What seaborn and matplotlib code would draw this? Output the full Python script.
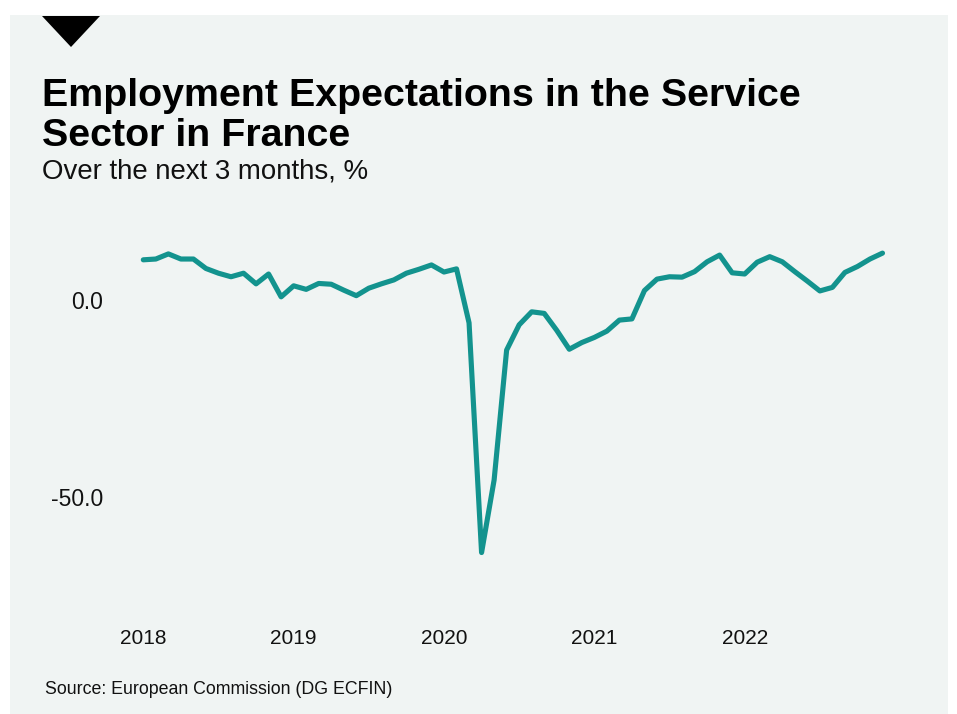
import matplotlib
matplotlib.use("Agg")
import matplotlib.pyplot as plt
from matplotlib.patches import Polygon, Rectangle
import seaborn as sns
import pandas as pd
import numpy as np

years = [2018, 2019, 2020, 2021, 2022]
months = list(range(1, 13))
values = [
    10.2, 10.4, 11.7, 10.4, 10.4, 8.0, 6.8, 5.9, 6.8, 4.1, 6.6, 0.8,
    3.6, 2.7, 4.2, 4.0, 2.5, 1.1, 3.0, 4.1, 5.1, 6.8, 7.8, 8.9,
    7.1, 7.9, -5.8, -64.1, -45.7, -12.7, -6.3, -3.0, -3.4, -7.7, -12.5, -10.8,
    -9.5, -7.9, -5.1, -4.8, 2.4, 5.3, 5.9, 5.8, 7.2, 9.7, 11.4, 6.9,
    6.6, 9.6, 11.0, 9.7, 7.2, 4.8, 2.3, 3.2, 7.0, 8.5, 10.4, 11.9,
]
y_ticks = [0.0, -50.0]
y_tick_labels = ["0.0", "-50.0"]
year_labels = [str(y) for y in years]

dates = [f"{y}-{m:02d}" for y in years for m in months]
df = pd.DataFrame({"idx": np.arange(len(values)), "date": dates, "value": values})

sns.set_theme(style="white")
plt.rcParams["font.family"] = ["Liberation Sans", "DejaVu Sans"]

W, H = 957, 714
fig = plt.figure(figsize=(W / 100, H / 100), dpi=100)
fig.patch.set_facecolor("white")
bg = "#f0f4f3"
fig.patches.append(Rectangle((10 / W, 0), (948 - 10) / W, (714 - 15) / H,
                             transform=fig.transFigure, facecolor=bg, edgecolor="none", zorder=-2))
fig.patches.append(Polygon([(42 / W, 1 - 16 / H), (100 / W, 1 - 16 / H), (71 / W, 1 - 47 / H)],
                           closed=True, transform=fig.transFigure, facecolor="black",
                           edgecolor="none", zorder=-1))

# axes in pixels
ppm = (882.5 - 143.3) / 59.0
xl0, xl1 = -2.0, 63.0
ax_left = 143.3 + xl0 * ppm
ax_right = 143.3 + xl1 * ppm
ppu = 3.94
yl0, yl1 = -78.0, 22.0
ax_top = 300 - yl1 * ppu
ax_bot = 300 - yl0 * ppu
ax = fig.add_axes([ax_left / W, 1 - ax_bot / H, (ax_right - ax_left) / W, (ax_bot - ax_top) / H])
ax.set_zorder(3)
ax.set_facecolor("none")
ax.patch.set_alpha(0)

sns.lineplot(data=df, x="idx", y="value", ax=ax, color="#13938e", linewidth=3.7,
             solid_joinstyle="round", solid_capstyle="round")
ax.set_xlim(xl0, xl1)
ax.set_ylim(yl0, yl1)
ax.set_xticks([0, 12, 24, 36, 48])
ax.set_xticklabels(year_labels, fontsize=15, color="#111111")
ax.set_yticks(y_ticks)
ax.set_yticklabels(y_tick_labels, fontsize=16.5, color="#111111")
ax.tick_params(axis="x", length=0, pad=15.5)
ax.tick_params(axis="y", length=0, pad=10.8)
ax.set_xlabel("")
ax.set_ylabel("")
for s in ax.spines.values():
    s.set_visible(False)

fig.text(42 / W, 1 - 146 / H, "Employment Expectations in the Service\nSector in France",
         fontsize=28.4, fontweight="bold", color="black", ha="left", va="baseline",
         linespacing=1.13)
fig.text(42 / W, 1 - 179 / H, "Over the next 3 months, %", fontsize=19.9, color="#111111",
         ha="left", va="baseline")
fig.text(45 / W, 1 - 694 / H, "Source: European Commission (DG ECFIN)", fontsize=12.8,
         color="#111111", ha="left", va="baseline")

fig.savefig("out.png", dpi=100, facecolor=fig.get_facecolor())
